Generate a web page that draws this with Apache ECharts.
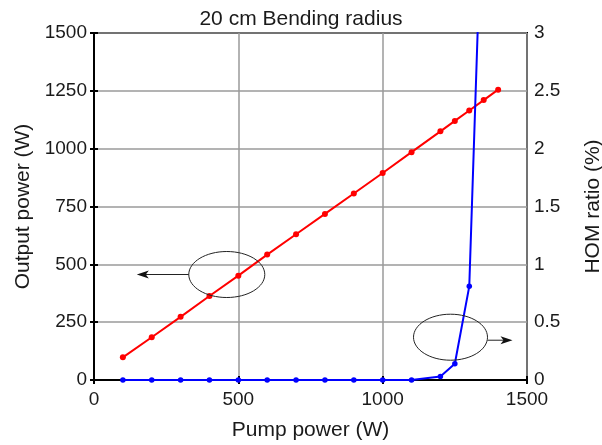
<!DOCTYPE html>
<html><head><meta charset="utf-8">
<script src="https://cdn.jsdelivr.net/npm/echarts@6/dist/echarts.min.js"></script>
<style>html,body{margin:0;padding:0;background:#fff}#c{width:602px;height:445px}</style>
</head><body><div id="c"></div>
<script>
const pumpRed = [100,200,300,400,500,600,700,800,900,1000,1100,1200,1250,1300,1350,1400];
const outputPower = [98,185,273,363,451,542,630,718,806,895,985,1075,1120,1165,1210,1255];
const pumpBlue = [100,200,300,400,500,600,700,800,900,1000,1100,1200,1250,1300,1350];
const homRatio = [0,0,0,0,0,0,0,0,0,0,0,0.03,0.14,0.81,4.6];
const xTicks = [0,500,1000,1500];
const leftTicks = [0,250,500,750,1000,1250,1500];
const rightTicks = [0,0.5,1,1.5,2,2.5,3];

const font = 'Liberation Sans, Arial, sans-serif';
const tickFont = {fontFamily:font,fontSize:19,color:'#1a1a1a'};
const nameFont = {fontFamily:font,fontSize:21,color:'#1a1a1a'};
const axisLine = {show:true,lineStyle:{color:'#000',width:2}};
const axisTick = {show:true,inside:true,length:4,lineStyle:{color:'#000',width:2}};
const split = {show:true,lineStyle:{color:'#9a9a9a',width:1.5}};
const chart = echarts.init(document.getElementById('c'));
chart.setOption({
  animation:false,
  title:{text:'20 cm Bending radius',left:'center',top:4,textStyle:{fontFamily:font,fontSize:21,fontWeight:'normal',color:'#1a1a1a'}},
  grid:{left:94,right:75,top:33,bottom:65,outerBoundsMode:'none',containLabel:false,show:true,borderColor:'#000',borderWidth:2,backgroundColor:'transparent'},
  xAxis:[
    {type:'value',min:0,max:1500,interval:500,position:'bottom',
     name:'Pump power (W)',nameLocation:'middle',nameGap:40,nameTextStyle:nameFont,
     axisLine:axisLine,axisTick:axisTick,
     axisLabel:Object.assign({margin:10,formatter:v=>xTicks.includes(v)?String(v):''},tickFont),
     splitLine:split},
    {type:'value',min:0,max:1500,interval:500,position:'top',
     axisLine:axisLine,axisTick:axisTick,axisLabel:{show:false},splitLine:{show:false}}
  ],
  yAxis:[
    {type:'value',min:0,max:1500,interval:250,position:'left',
     name:'Output power (W)',nameLocation:'middle',nameGap:58,nameTextStyle:nameFont,
     axisLine:axisLine,axisTick:axisTick,
     axisLabel:Object.assign({margin:7,formatter:v=>leftTicks.includes(v)?String(v):''},tickFont),
     splitLine:split},
    {type:'value',min:0,max:3,interval:0.5,position:'right',
     name:'HOM ratio (%)',nameLocation:'middle',nameGap:56,nameRotate:90,nameTextStyle:nameFont,
     axisLine:axisLine,axisTick:axisTick,
     axisLabel:Object.assign({margin:7,formatter:v=>rightTicks.includes(v)?String(v):''},tickFont),
     splitLine:{show:false}}
  ],
  series:[
    {type:'line',xAxisIndex:0,yAxisIndex:0,data:pumpRed.map((x,i)=>[x,outputPower[i]]),
     lineStyle:{color:'#ff0000',width:2},itemStyle:{color:'#ff0000'},symbol:'circle',symbolSize:6,z:3},
    {type:'line',xAxisIndex:0,yAxisIndex:1,data:pumpBlue.map((x,i)=>[x,homRatio[i]]),clip:true,
     lineStyle:{color:'#0000ff',width:2},itemStyle:{color:'#0000ff'},symbol:'circle',symbolSize:5.5,z:4}
  ]
});
// annotation ellipses and arrows, positioned in data space
const p1 = chart.convertToPixel({xAxisIndex:0,yAxisIndex:0},[460,456]);
const p2 = chart.convertToPixel({xAxisIndex:0,yAxisIndex:1},[1235,0.37]);
const st = {fill:'none',stroke:'#222',lineWidth:1};
chart.setOption({graphic:[
  {type:'ellipse',shape:{cx:p1[0],cy:p1[1],rx:38,ry:23},style:st,z:10},
  {type:'line',shape:{x1:p1[0]-38,y1:p1[1],x2:p1[0]-84,y2:p1[1]},style:{stroke:'#222',lineWidth:1},z:10},
  {type:'polygon',shape:{points:[[p1[0]-90,p1[1]],[p1[0]-78,p1[1]-4],[p1[0]-81,p1[1]],[p1[0]-78,p1[1]+4]]},style:{fill:'#111'},z:10},
  {type:'ellipse',shape:{cx:p2[0],cy:p2[1],rx:37,ry:23},style:st,z:10},
  {type:'line',shape:{x1:p2[0]+37,y1:p2[1]+3,x2:p2[0]+56,y2:p2[1]+3},style:{stroke:'#222',lineWidth:1},z:10},
  {type:'polygon',shape:{points:[[p2[0]+62,p2[1]+3],[p2[0]+50,p2[1]-1],[p2[0]+53,p2[1]+3],[p2[0]+50,p2[1]+7]]},style:{fill:'#111'},z:10}
]});
</script></body></html>
